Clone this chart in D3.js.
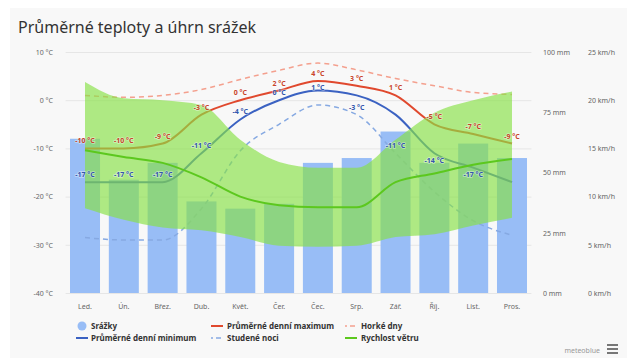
<!DOCTYPE html>
<html>
<head>
<meta charset="utf-8">
<script src="https://cdn.jsdelivr.net/npm/d3@7"></script>
<style>
  html, body { margin: 0; padding: 0; background: #ffffff; }
  svg { display: block; font-family: "Noto Sans", "Open Sans", sans-serif; }
</style>
</head>
<body>
<svg id="chart" width="627" height="358"></svg>
<script>
// Monthly climate values
const months = ["Led.", "Ún.", "Břez.", "Dub.", "Květ.", "Čer.", "Čec.", "Srp.", "Zář.", "Říj.", "List.", "Pros."];
const precipitation = [64, 47, 54, 38, 35, 37, 54, 56, 67, 54, 62, 56];      // mm
const tempMax = [-10, -10, -9, -3, 0, 2, 4, 3, 1, -5, -7, -9];               // °C
const tempMin = [-17, -17, -17, -11, -4, 0, 2, 1, -3, -11, -14, -17];        // °C
const hotDays = [1, 0.6, 1, 2.2, 4.3, 6.2, 7.7, 6.3, 4.5, 3, 1.6, 1.2];      // °C
const coldNights = [-28.5, -29, -29, -22.5, -10.5, -5, -1, -3, -11, -19, -25, -28]; // °C
const windMean = [14.8, 14.1, 13.5, 12, 10, 9.1, 8.9, 8.9, 11.5, 12.4, 13.3, 13.9]; // km/h
const windLow = [8.8, 7.6, 6.8, 6.5, 5.8, 4.9, 4.8, 4.9, 5.8, 6.1, 7.0, 7.8];
const windHigh = [21.9, 20.2, 20, 19.5, 15.9, 13.6, 13, 13, 15.9, 18.7, 20, 20.9];
const minLabelHidden = [false, false, false, false, false, false, true, false, false, false, false, false];

const tempTicks = [-40, -30, -20, -10, 0, 10];
const precipTicks = [0, 25, 50, 75, 100];
const windTicks = [0, 5, 10, 15, 20, 25];

const svg = d3.select("#chart");
const plot = { left: 65.6, right: 531.4, top: 52, bottom: 293 };

// panel background
svg.append("rect").attr("x", 10).attr("y", 8).attr("width", 617).attr("height", 350).attr("fill", "#f8f8f8");

svg.append("text").attr("x", 18).attr("y", 33)
  .attr("font-size", 16).attr("fill", "#333").text("Průměrné teploty a úhrn srážek");

const x = d3.scaleBand().domain(months).range([plot.left, plot.right])
  .paddingInner(0.227).paddingOuter(0.1135);
const cx = m => x(m) + x.bandwidth() / 2;
const yT = d3.scaleLinear().domain([-40, 10]).range([plot.bottom, plot.top]);
const yP = d3.scaleLinear().domain([0, 100]).range([plot.bottom, plot.top]);
const yW = d3.scaleLinear().domain([0, 25]).range([plot.bottom, plot.top]);

// grid lines
svg.append("g").attr("transform", `translate(${plot.left},0)`)
  .call(d3.axisLeft(yT).tickValues(tempTicks).tickSize(-(plot.right - plot.left)).tickFormat(""))
  .call(g => g.select(".domain").remove())
  .call(g => g.selectAll("line").attr("stroke", "#e6e6e6"));

// left axis
svg.append("g").attr("transform", "translate(53,0)")
  .call(d3.axisLeft(yT).tickValues(tempTicks).tickSize(0).tickPadding(0).tickFormat(d => d + " °C"))
  .call(g => g.select(".domain").remove())
  .call(g => g.selectAll("text").attr("font-size", 7).attr("fill", "#666").attr("font-family", "Noto Sans"));

// right axes
svg.append("g").attr("transform", "translate(543,0)")
  .call(d3.axisRight(yP).tickValues(precipTicks).tickSize(0).tickPadding(0).tickFormat(d => d + " mm"))
  .call(g => g.select(".domain").remove())
  .call(g => g.selectAll("text").attr("font-size", 7).attr("fill", "#666").attr("font-family", "Noto Sans"));
svg.append("g").attr("transform", "translate(588,0)")
  .call(d3.axisRight(yW).tickValues(windTicks).tickSize(0).tickPadding(0).tickFormat(d => d + " km/h"))
  .call(g => g.select(".domain").remove())
  .call(g => g.selectAll("text").attr("font-size", 7).attr("fill", "#666").attr("font-family", "Noto Sans"));

// month axis
svg.append("g").attr("transform", `translate(0,${plot.bottom + 8})`)
  .call(d3.axisBottom(x).tickSize(0).tickPadding(3))
  .call(g => g.select(".domain").remove())
  .call(g => g.selectAll("text").attr("font-size", 7).attr("fill", "#666").attr("font-family", "Noto Sans"));

// precipitation bars
svg.append("g").selectAll("rect").data(months).join("rect")
  .attr("x", m => x(m)).attr("width", x.bandwidth())
  .attr("y", (m, i) => yP(precipitation[i]))
  .attr("height", (m, i) => yP(0) - yP(precipitation[i]))
  .attr("fill", "#98bdf6");

const curve = d3.curveMonotoneX;
function drawLine(values, scale, color, width, dash) {
  svg.append("path")
    .datum(values)
    .attr("fill", "none").attr("stroke", color).attr("stroke-width", width)
    .attr("stroke-dasharray", dash || null)
    .attr("d", d3.line().x((d, i) => cx(months[i])).y(d => scale(d)).curve(curve));
}

drawLine(hotDays, yT, "#f4a08e", 1.5, "5,4");
drawLine(coldNights, yT, "#86a9e2", 1.5, "5,4");
drawLine(tempMax, yT, "#e0492e", 2);
drawLine(tempMin, yT, "#3b62c2", 2);

// wind range band
svg.append("path")
  .datum(months)
  .attr("fill", "rgba(135,224,70,0.66)")
  .attr("d", d3.area()
    .x(m => cx(m))
    .y0((m, i) => yW(windLow[i]))
    .y1((m, i) => yW(windHigh[i]))
    .curve(curve));

drawLine(windMean, yW, "#5cc81e", 2);

function drawLabels(values, color, hidden) {
  svg.append("g").selectAll("text").data(values).join("text")
    .filter((d, i) => !(hidden && hidden[i]))
    .attr("x", (d, i) => cx(months[i]))
    .attr("y", d => yT(d) - 5)
    .attr("text-anchor", "middle")
    .attr("font-size", 7).attr("font-weight", "bold")
    .attr("fill", color)
    .attr("stroke", "rgba(255,255,255,0.45)").attr("stroke-width", 1.5)
    .attr("paint-order", "stroke")
    .text(d => d + " °C");
}
drawLabels(tempMax, "#c8442a");
drawLabels(tempMin, "#3356ac", minLabelHidden);

// legend
const legend = svg.append("g").attr("font-size", 8).attr("font-weight", "bold").attr("fill", "#333");
const row1 = 329, row2 = 341;
legend.append("circle").attr("cx", 82).attr("cy", row1 - 3).attr("r", 4.5).attr("fill", "#98bdf6");
legend.append("text").attr("x", 91).attr("y", row1).text("Srážky");
legend.append("line").attr("x1", 211).attr("x2", 223).attr("y1", row1 - 3).attr("y2", row1 - 3)
  .attr("stroke", "#e0492e").attr("stroke-width", 2);
legend.append("text").attr("x", 227).attr("y", row1).text("Průměrné denní maximum");
legend.append("line").attr("x1", 345).attr("x2", 357).attr("y1", row1 - 3).attr("y2", row1 - 3)
  .attr("stroke", "#f4a08e").attr("stroke-width", 1.5).attr("stroke-dasharray", "2,3,5,3");
legend.append("text").attr("x", 361).attr("y", row1).text("Horké dny");
legend.append("line").attr("x1", 76).attr("x2", 88).attr("y1", row2 - 3).attr("y2", row2 - 3)
  .attr("stroke", "#3b62c2").attr("stroke-width", 2);
legend.append("text").attr("x", 91).attr("y", row2).text("Průměrné denní minimum");
legend.append("line").attr("x1", 211).attr("x2", 223).attr("y1", row2 - 3).attr("y2", row2 - 3)
  .attr("stroke", "#86a9e2").attr("stroke-width", 1.5).attr("stroke-dasharray", "2,3,5,3");
legend.append("text").attr("x", 227).attr("y", row2).text("Studené noci");
legend.append("line").attr("x1", 345).attr("x2", 357).attr("y1", row2 - 3).attr("y2", row2 - 3)
  .attr("stroke", "#5cc81e").attr("stroke-width", 2);
legend.append("text").attr("x", 361).attr("y", row2).text("Rychlost větru");

// credit and menu button
svg.append("text").attr("x", 600).attr("y", 353).attr("text-anchor", "end")
  .attr("font-size", 7).attr("fill", "#999").text("meteoblue");
const menu = svg.append("g").attr("fill", "#777");
[344, 348, 352].forEach(yy => menu.append("rect").attr("x", 607).attr("y", yy).attr("width", 11).attr("height", 2));
</script>
</body>
</html>
